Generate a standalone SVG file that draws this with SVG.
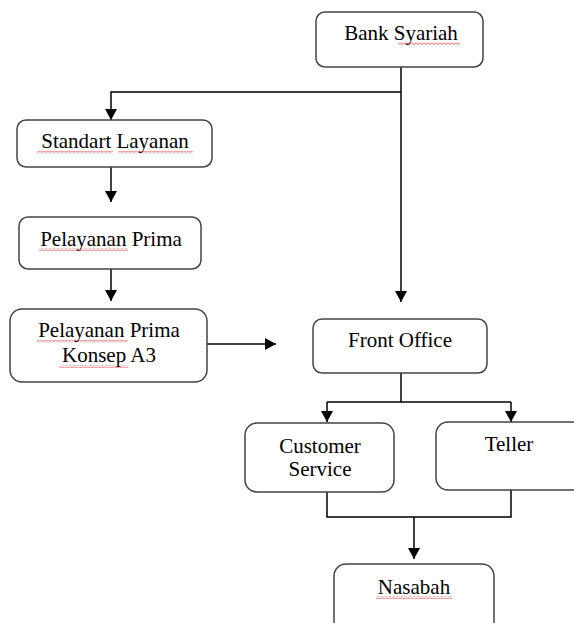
<svg xmlns="http://www.w3.org/2000/svg" width="574" height="623" viewBox="0 0 574 623">
<style>
.box{fill:#fff;stroke:#444;stroke-width:1.5}
.lbl{font-family:'Liberation Serif','DejaVu Serif',serif;font-size:21px;fill:#000;text-anchor:middle}
.ln{fill:none;stroke:#000;stroke-width:1.5}
.sp{fill:url(#wavy)}
</style>
<defs>
<marker id="ah" viewBox="0 0 11 12" refX="11" refY="6" markerWidth="11" markerHeight="12" markerUnits="userSpaceOnUse" orient="auto">
<path d="M0,0 L11,6 L0,12 Z" fill="#000"/>
</marker>
<pattern id="wavy" patternUnits="userSpaceOnUse" x="0" y="0" width="4" height="3">
<path d="M0,0.5 L2,2.5 L4,0.5" fill="none" stroke="#e02020" stroke-width="0.8"/>
</pattern>
</defs>
<g id="connectors">
<path class="ln" d="M401,67 V302" marker-end="url(#ah)"/>
<path class="ln" d="M401,92 H111 V120" marker-end="url(#ah)"/>
<path class="ln" d="M111,167 V202" marker-end="url(#ah)"/>
<path class="ln" d="M111,269 V301" marker-end="url(#ah)"/>
<path class="ln" d="M207,344 H276" marker-end="url(#ah)"/>
<path class="ln" d="M401,373 V402"/>
<path class="ln" d="M327,402 H511"/>
<path class="ln" d="M327,402 V422" marker-end="url(#ah)"/>
<path class="ln" d="M511,402 V422" marker-end="url(#ah)"/>
<path class="ln" d="M327,492 V517 H511 V490"/>
<path class="ln" d="M414,517 V559" marker-end="url(#ah)"/>
</g>
<g id="bank-syariah">
<rect class="box" x="316" y="12" width="167" height="55" rx="9"/>
<text class="lbl" x="401" y="40" font-family="Liberation Serif, serif">Bank Syariah</text>
<rect class="sp" x="398" y="42" width="62" height="3"/>
</g>
<g id="standart-layanan">
<rect class="box" x="17" y="120" width="195" height="47" rx="9"/>
<text class="lbl" x="115" y="148" font-family="Liberation Serif, serif">Standart Layanan</text>
<rect class="sp" x="37" y="151" width="76" height="3"/>
<rect class="sp" x="118" y="151" width="75" height="3"/>
</g>
<g id="pelayanan-prima">
<rect class="box" x="19" y="217" width="182" height="52" rx="9"/>
<text class="lbl" x="111" y="246" font-family="Liberation Serif, serif">Pelayanan Prima</text>
<rect class="sp" x="39" y="248" width="89" height="3"/>
</g>
<g id="pelayanan-prima-a3">
<rect class="box" x="10" y="309" width="197" height="73" rx="12"/>
<text class="lbl" x="109" y="337" font-family="Liberation Serif, serif">Pelayanan Prima</text>
<text class="lbl" x="109" y="362" font-family="Liberation Serif, serif">Konsep A3</text>
<rect class="sp" x="37" y="340" width="91" height="3"/>
<rect class="sp" x="59" y="365" width="69" height="3"/>
</g>
<g id="front-office">
<rect class="box" x="313" y="319" width="174" height="54" rx="9"/>
<text class="lbl" x="400" y="347" font-family="Liberation Serif, serif">Front Office</text>
</g>
<g id="customer-service">
<rect class="box" x="245" y="423" width="149" height="69" rx="12"/>
<text class="lbl" x="320" y="453" font-family="Liberation Serif, serif">Customer</text>
<text class="lbl" x="320" y="476" font-family="Liberation Serif, serif">Service</text>
</g>
<g id="teller">
<rect class="box" x="436" y="422" width="150" height="68" rx="12"/>
<text class="lbl" x="509" y="451" font-family="Liberation Serif, serif">Teller</text>
</g>
<g id="nasabah">
<rect class="box" x="334" y="564" width="160" height="70" rx="12"/>
<text class="lbl" x="414" y="594" font-family="Liberation Serif, serif">Nasabah</text>
<rect class="sp" x="376" y="596" width="76" height="3"/>
</g>
</svg>
